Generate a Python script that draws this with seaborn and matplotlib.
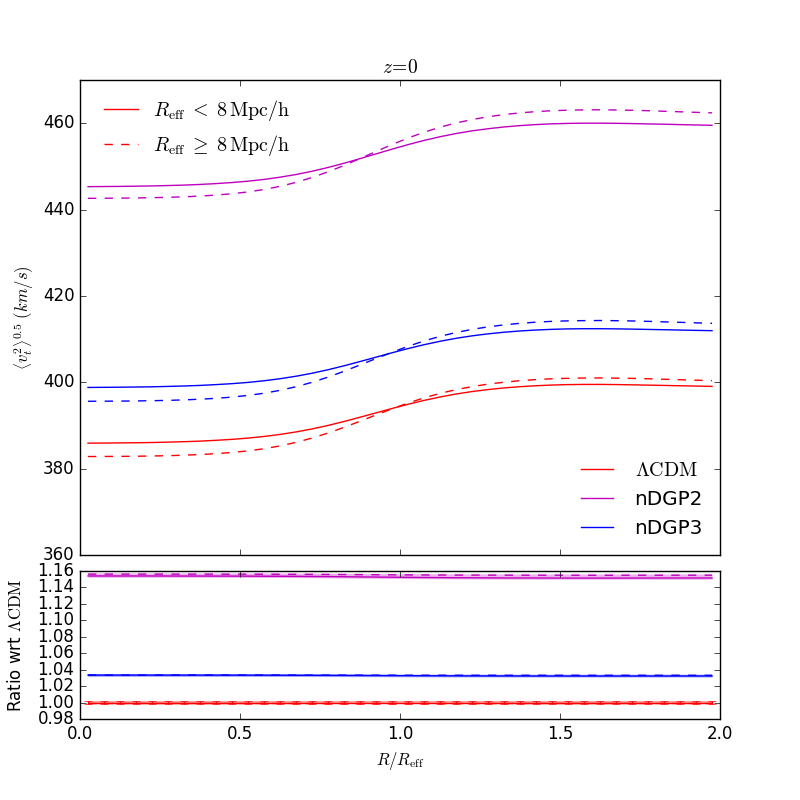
import numpy as np
import seaborn as sns
import matplotlib
matplotlib.use('Agg')
import matplotlib.pyplot as plt
from matplotlib.lines import Line2D

# bin centres in R/R_eff
r_bins = [0.025, 0.075, 0.125, 0.175, 0.225, 0.275, 0.325, 0.375, 0.425, 0.475,
          0.525, 0.575, 0.625, 0.675, 0.725, 0.775, 0.825, 0.875, 0.925, 0.975,
          1.025, 1.075, 1.125, 1.175, 1.225, 1.275, 1.325, 1.375, 1.425, 1.475,
          1.525, 1.575, 1.625, 1.675, 1.725, 1.775, 1.825, 1.875, 1.925, 1.975]

# <v_t^2>^0.5 (km/s), small voids (R_eff < 8 Mpc/h)
lcdm_small = [385.90, 385.93, 385.96, 386.00, 386.05, 386.14, 386.24, 386.37, 386.56, 386.78,
              387.07, 387.45, 387.92, 388.50, 389.19, 390.00, 390.91, 391.90, 392.91, 393.93,
              394.90, 395.80, 396.59, 397.28, 397.85, 398.31, 398.69, 398.98, 399.20, 399.36,
              399.46, 399.50, 399.50, 399.47, 399.41, 399.34, 399.27, 399.19, 399.12, 399.05]
ndgp2_small = [445.30, 445.33, 445.36, 445.41, 445.47, 445.56, 445.66, 445.81, 446.01, 446.25,
               446.57, 446.97, 447.49, 448.11, 448.86, 449.74, 450.72, 451.79, 452.88, 453.98,
               455.03, 456.00, 456.86, 457.60, 458.22, 458.71, 459.12, 459.44, 459.68, 459.85,
               459.95, 460.00, 460.00, 459.97, 459.91, 459.83, 459.76, 459.67, 459.59, 459.51]
ndgp3_small = [398.80, 398.83, 398.86, 398.90, 398.95, 399.04, 399.14, 399.27, 399.46, 399.68,
               399.97, 400.35, 400.82, 401.40, 402.09, 402.90, 403.81, 404.80, 405.81, 406.83,
               407.80, 408.70, 409.49, 410.18, 410.75, 411.21, 411.59, 411.88, 412.10, 412.26,
               412.36, 412.40, 412.40, 412.37, 412.31, 412.24, 412.17, 412.09, 412.02, 411.95]

# large voids (R_eff >= 8 Mpc/h)
lcdm_large = [382.80, 382.82, 382.84, 382.87, 382.93, 383.00, 383.11, 383.26, 383.47, 383.74,
              384.11, 384.61, 385.26, 386.08, 387.08, 388.24, 389.56, 390.98, 392.43, 393.85,
              395.18, 396.39, 397.42, 398.29, 398.99, 399.57, 400.01, 400.37, 400.63, 400.81,
              400.92, 400.98, 401.00, 400.96, 400.90, 400.81, 400.70, 400.59, 400.48, 400.37]
ndgp2_large = [442.60, 442.62, 442.64, 442.68, 442.75, 442.83, 442.95, 443.12, 443.35, 443.66,
               444.08, 444.64, 445.37, 446.29, 447.42, 448.73, 450.21, 451.82, 453.44, 455.05,
               456.55, 457.90, 459.07, 460.05, 460.84, 461.49, 461.99, 462.39, 462.68, 462.89,
               463.01, 463.08, 463.10, 463.05, 462.99, 462.89, 462.76, 462.64, 462.51, 462.39]
ndgp3_large = [395.60, 395.62, 395.64, 395.68, 395.73, 395.81, 395.92, 396.08, 396.28, 396.57,
               396.95, 397.46, 398.13, 398.97, 399.99, 401.19, 402.54, 404.01, 405.49, 406.95,
               408.32, 409.56, 410.63, 411.52, 412.24, 412.83, 413.29, 413.65, 413.92, 414.11,
               414.22, 414.28, 414.30, 414.26, 414.20, 414.11, 413.99, 413.88, 413.76, 413.65]

ratio_err = 0.0015
lcdm_err = 0.002

models = ['LCDM', 'nDGP2', 'nDGP3']
model_labels = [r'$\Lambda{\rm CDM}$', 'nDGP2', 'nDGP3']
colors = {'LCDM': 'r', 'nDGP2': 'm', 'nDGP3': 'b'}
band_colors = {'LCDM': '#ff8080', 'nDGP2': '#d860d8', 'nDGP3': '#8080ff'}
small = {'LCDM': lcdm_small, 'nDGP2': ndgp2_small, 'nDGP3': ndgp3_small}
large = {'LCDM': lcdm_large, 'nDGP2': ndgp2_large, 'nDGP3': ndgp3_large}

plt.style.use('classic')
plt.rcParams['figure.facecolor'] = 'white'
plt.rcParams['savefig.facecolor'] = 'white'

fig = plt.figure(figsize=(8, 8), dpi=100)
ax = fig.add_axes([0.1, 0.30625, 0.8, 0.59375])
axr = fig.add_axes([0.1, 0.10125, 0.8, 0.185], sharex=ax)

x = np.array(r_bins)
for m in models:
    sns.lineplot(x=x, y=small[m], ax=ax, color=colors[m], linestyle='-', legend=False)
    sns.lineplot(x=x, y=large[m], ax=ax, color=colors[m], linestyle='--', legend=False)

    rs = np.array(small[m]) / np.array(lcdm_small)
    rl = np.array(large[m]) / np.array(lcdm_large)
    axr.fill_between(x, rs - ratio_err, rs + ratio_err, color=band_colors[m], alpha=0.5, lw=0)
    axr.fill_between(x, rl - ratio_err, rl + ratio_err, color=band_colors[m], alpha=0.5, lw=0)
    sns.lineplot(x=x, y=rs, ax=axr, color=colors[m], linestyle='-', legend=False)
    sns.lineplot(x=x, y=rl, ax=axr, color=colors[m], linestyle='--', legend=False)
    if m == 'LCDM':
        axr.errorbar(x, rs, yerr=lcdm_err, fmt='none', ecolor='r', capsize=3, elinewidth=1)

ax.set_xlim(0, 2)
ax.set_ylim(360, 470)
ax.set_yticks([360, 380, 400, 420, 440, 460])
ax.set_ylabel(r'$\left\langle v_t^2 \right\rangle^{0.5}\ (km/s)$')
ax.set_xlabel('')
ax.set_title(r'$z\!=\!0$', fontsize=14)
plt.setp(ax.get_xticklabels(), visible=False)

size_handles = [Line2D([], [], color='r', linestyle='-'),
                Line2D([], [], color='r', dashes=(6, 6))]
leg1 = ax.legend(size_handles,
                 [r'$R_{\rm eff}\;<\;8\,{\rm Mpc/h}$', r'$R_{\rm eff}\;\geq\;8\,{\rm Mpc/h}$'],
                 loc='upper left', frameon=False, handlelength=2.3, handletextpad=0.45,
                 fontsize='large')
ax.add_artist(leg1)
model_handles = [Line2D([], [], color=colors[m]) for m in models]
ax.legend(model_handles, model_labels, loc='lower right', frameon=False,
          handlelength=2.2, fontsize='large', labelspacing=0.5, borderaxespad=0.45)

axr.set_ylim(0.98, 1.16)
axr.set_yticks(np.arange(0.98, 1.161, 0.02))
axr.set_xticks([0.0, 0.5, 1.0, 1.5, 2.0])
axr.set_xlim(0, 2)
axr.set_ylabel(r'Ratio wrt $\Lambda{\rm CDM}$')
axr.yaxis.set_label_coords(-0.086, 0.5)
axr.set_xlabel(r'$R/R_{\rm eff}$')

fig.savefig('out.png', dpi=100)
